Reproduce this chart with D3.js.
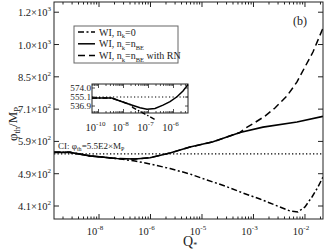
<!DOCTYPE html>
<html>
<head>
<meta charset="UTF-8">
<script src="https://cdn.jsdelivr.net/npm/d3@7.8.5/dist/d3.min.js"></script>
<style>
  * { margin: 0; padding: 0; }
  body { background: #fff; width: 326px; height: 250px; overflow: hidden; }
  svg { display: block; font-family: 'Liberation Serif', 'DejaVu Serif', serif; }
</style>
</head>
<body>
<svg id="chart" width="326" height="250"></svg>
<script>
// main panel data: x is log10(Q*), y is phi_th/M_P
const solidX = [-8.874, -8.563, -8.175, -7.650, -7.301, -7.010, -6.621, -6.233, -5.786, -5.262, -4.816, -4.155, -3.650];
const solidY = [555, 555, 544, 536, 534.5, 538.5, 553, 572, 589, 621, 640, 659, 680];

const rnX = [-8.874, -8.563, -8.175, -7.650, -7.301, -7.010, -6.621, -6.233, -5.786, -5.262, -5.165, -4.971, -4.777, -4.583, -4.350, -4.155, -4.000, -3.845, -3.650];
const rnY = [555, 555, 544, 536, 534.5, 538.5, 553, 572, 589, 621, 635, 657, 681, 713, 763, 826, 899, 978, 1120];

const zeroX = [-8.874, -8.563, -8.175, -7.650, -7.301, -7.010, -6.621, -6.233, -5.903, -5.553, -5.204, -4.874, -4.583, -4.291, -4.136, -4.000, -3.864, -3.748, -3.650];
const zeroY = [555, 555, 544, 536, 528.6, 519.7, 506.6, 491.2, 474.8, 459, 441.2, 426.5, 412.3, 398.6, 396.3, 408, 431.4, 456.4, 483];

const ciValue = 550;

// inset data
const insetSolidX = [-10.26, -9.47, -9.14, -8.74, -8.34, -8.06, -7.74, -7.42, -7.14, -6.86, -6.62, -6.42];
const insetSolidY = [553, 553, 547, 540, 533.5, 530.5, 532, 538.7, 545.9, 555.7, 567.6, 581.5];
const insetZeroX = [-10.26, -9.47, -9.14, -8.74, -8.62, -8.14, -7.70];
const insetZeroY = [553, 553, 547, 540, 533.8, 521.1, 509.6];

// ticks
const xTicks = [-8, -7, -6, -5, -4];
const xTickLabels = ['-8', '-6', '-5', '-3', '-2'];
const yTicks = [410, 492, 590.4, 708.5, 850.2, 1020.2, 1224.3];
const yTickLabels = [['4.1', '2'], ['4.9', '2'], ['5.9', '2'], ['7.1', '2'], ['8.5', '2'], ['1.0', '3'], ['1.2', '3']];
const insetXTicks = [-10, -9, -8, -7];
const insetXTickLabels = ['-10', '-8', '-7', '-6'];
const insetYTicks = [536.9, 555.1, 574.0];

const svg = d3.select('#chart');
const L = 54, R = 323, T = 2, B = 219;

const x = d3.scaleLinear().domain([-8.874, -3.650]).range([L, R]);
const y = d3.scaleLog().domain([381, 1297]).range([B, T]);

svg.append('clipPath').attr('id', 'clipMain')
  .append('rect').attr('x', L).attr('y', T).attr('width', R - L).attr('height', B - T);

const line = (xs, ys, sx, sy) => d3.line().x(d => sx(d[0])).y(d => sy(d[1]))(xs.map((v, i) => [v, ys[i]]));

const plot = svg.append('g').attr('clip-path', 'url(#clipMain)');

// CI reference line
plot.append('line')
  .attr('x1', L).attr('x2', R).attr('y1', y(ciValue)).attr('y2', y(ciValue))
  .attr('stroke', '#000').attr('stroke-width', 1.2).attr('stroke-dasharray', '1.3,2.2');

plot.append('path').attr('d', line(zeroX, zeroY, x, y))
  .attr('fill', 'none').attr('stroke', '#000').attr('stroke-width', 1.5)
  .attr('stroke-dasharray', '6,2.5,2,2.5');
plot.append('path').attr('d', line(rnX, rnY, x, y))
  .attr('fill', 'none').attr('stroke', '#000').attr('stroke-width', 1.5)
  .attr('stroke-dasharray', '7,4');
plot.append('path').attr('d', line(solidX, solidY, x, y))
  .attr('fill', 'none').attr('stroke', '#000').attr('stroke-width', 1.6);

// frame
svg.append('rect').attr('x', L).attr('y', T).attr('width', R - L).attr('height', B - T)
  .attr('fill', 'none').attr('stroke', '#222').attr('stroke-width', 1);

// x ticks (major + log minor) on bottom and top
const minor = [];
for (let d = -9; d <= -4; d++) {
  for (let k = 2; k <= 9; k++) {
    const v = d + Math.log10(k);
    if (v > x.domain()[0] && v < x.domain()[1]) minor.push(v);
  }
}
const tickG = svg.append('g').attr('stroke', '#222').attr('stroke-width', 1);
xTicks.forEach(v => {
  tickG.append('line').attr('x1', x(v)).attr('x2', x(v)).attr('y1', B).attr('y2', B - 5);
  tickG.append('line').attr('x1', x(v)).attr('x2', x(v)).attr('y1', T).attr('y2', T + 5);
});
minor.forEach(v => {
  tickG.append('line').attr('x1', x(v)).attr('x2', x(v)).attr('y1', B).attr('y2', B - 2.5);
  tickG.append('line').attr('x1', x(v)).attr('x2', x(v)).attr('y1', T).attr('y2', T + 2.5);
});
yTicks.forEach(v => {
  tickG.append('line').attr('x1', L).attr('x2', L + 5).attr('y1', y(v)).attr('y2', y(v));
  tickG.append('line').attr('x1', R).attr('x2', R - 5).attr('y1', y(v)).attr('y2', y(v));
});

// x tick labels
xTicks.forEach((v, i) => {
  const t = svg.append('text').attr('x', x(v) - 4).attr('y', 235)
    .attr('text-anchor', 'middle').attr('font-size', 10.5).attr('fill', '#222');
  t.append('tspan').text('10');
  t.append('tspan').attr('dy', -5).attr('font-size', 7).text(xTickLabels[i]);
});

// y tick labels
yTicks.forEach((v, i) => {
  const t = svg.append('text').attr('x', 51).attr('y', y(v) + 4)
    .attr('text-anchor', 'end').attr('font-size', 10.5).attr('fill', '#222');
  t.append('tspan').text(yTickLabels[i][0] + '×10');
  t.append('tspan').attr('dy', -5).attr('font-size', 7).text(yTickLabels[i][1]);
});

// axis titles
const yl = svg.append('text').attr('transform', 'translate(17,124) rotate(-90)')
  .attr('text-anchor', 'middle').attr('font-size', 13).attr('fill', '#222');
yl.append('tspan').text('φ');
yl.append('tspan').attr('dy', 3).attr('font-size', 8.5).text('th');
yl.append('tspan').attr('dy', -3).text('/M');
yl.append('tspan').attr('dy', 3).attr('font-size', 8.5).text('P');

const xl = svg.append('text').attr('x', 183).attr('y', 246).attr('font-size', 14).attr('fill', '#222');
xl.append('tspan').text('Q');
xl.append('tspan').attr('dy', 2).attr('font-size', 8).text('*');

// panel mark
svg.append('text').attr('x', 300).attr('y', 25).attr('text-anchor', 'middle')
  .attr('font-size', 12).attr('fill', '#222').text('(b)');

// CI label
const ci = svg.append('text').attr('x', 58).attr('y', 149).attr('font-size', 9).attr('fill', '#222');
ci.append('tspan').text('CI: φ');
ci.append('tspan').attr('dy', 2).attr('font-size', 6).text('th');
ci.append('tspan').attr('dy', -2).text('=5.5E2×M');
ci.append('tspan').attr('dy', 2).attr('font-size', 6).text('P');

// legend
const lg = svg.append('g');
lg.append('rect').attr('x', 74).attr('y', 26).attr('width', 104).attr('height', 37)
  .attr('fill', '#fff').attr('stroke', '#666').attr('stroke-width', 1);
const legendItems = [
  { dash: '6,2.5,2,2.5', parts: [['WI, n', 0], ['k', 1], ['=0', 0]] },
  { dash: null, parts: [['WI, n', 0], ['k', 1], ['=n', 0], ['BE', 1]] },
  { dash: '7,4', parts: [['WI, n', 0], ['k', 1], ['=n', 0], ['BE', 1], [' with RN', 0]] }
];
legendItems.forEach((item, i) => {
  const yy = 32 + i * 11.8;
  lg.append('line').attr('x1', 78).attr('x2', 95).attr('y1', yy).attr('y2', yy)
    .attr('stroke', '#000').attr('stroke-width', 1.5)
    .attr('stroke-dasharray', item.dash);
  const t = lg.append('text').attr('x', 99).attr('y', yy + 3.5).attr('font-size', 10).attr('fill', '#222');
  let sub = 0;
  item.parts.forEach(p => {
    const s = t.append('tspan').text(p[0]);
    if (p[1] && !sub) { s.attr('dy', 2.5).attr('font-size', 6.5); sub = 1; }
    else if (p[1]) { s.attr('font-size', 6.5); }
    else if (sub) { s.attr('dy', -2.5); sub = 0; }
  });
});

// inset
const iL = 92, iR = 188, iT = 84, iB = 113;
const ix = d3.scaleLinear().domain([-10.26, -6.42]).range([iL, iR]);
const iy = d3.scaleLog().domain([523.2, 582.6]).range([iB, iT]);
const inset = svg.append('g');
inset.append('rect').attr('x', iL).attr('y', iT).attr('width', iR - iL).attr('height', iB - iT)
  .attr('fill', '#fff').attr('stroke', '#222').attr('stroke-width', 1);
inset.append('line').attr('x1', iL).attr('x2', iR).attr('y1', iy(555.1)).attr('y2', iy(555.1))
  .attr('stroke', '#000').attr('stroke-width', 1.1).attr('stroke-dasharray', '1.2,2.3');
inset.append('path').attr('d', line(insetZeroX, insetZeroY, ix, iy))
  .attr('fill', 'none').attr('stroke', '#000').attr('stroke-width', 1.4).attr('stroke-dasharray', '5,2,1.5,2');
inset.append('path').attr('d', line(insetSolidX, insetSolidY, ix, iy))
  .attr('fill', 'none').attr('stroke', '#000').attr('stroke-width', 1.5);

const iMinor = [];
for (let d = -11; d <= -7; d++) {
  for (let k = 2; k <= 9; k++) {
    const v = d + Math.log10(k);
    if (v > ix.domain()[0] && v < ix.domain()[1]) iMinor.push(v);
  }
}
const iTick = inset.append('g').attr('stroke', '#222').attr('stroke-width', 0.8);
insetXTicks.forEach(v => {
  iTick.append('line').attr('x1', ix(v)).attr('x2', ix(v)).attr('y1', iB).attr('y2', iB - 4);
  iTick.append('line').attr('x1', ix(v)).attr('x2', ix(v)).attr('y1', iT).attr('y2', iT + 4);
});
iMinor.forEach(v => {
  iTick.append('line').attr('x1', ix(v)).attr('x2', ix(v)).attr('y1', iB).attr('y2', iB - 2);
  iTick.append('line').attr('x1', ix(v)).attr('x2', ix(v)).attr('y1', iT).attr('y2', iT + 2);
});
insetYTicks.forEach(v => {
  iTick.append('line').attr('x1', iL).attr('x2', iL + 3).attr('y1', iy(v)).attr('y2', iy(v));
  iTick.append('line').attr('x1', iR).attr('x2', iR - 3).attr('y1', iy(v)).attr('y2', iy(v));
  inset.append('text').attr('x', iL - 1).attr('y', iy(v) + 3.2).attr('text-anchor', 'end')
    .attr('font-size', 9.2).attr('fill', '#222').text(v.toFixed(1));
});
insetXTicks.forEach((v, i) => {
  const t = inset.append('text').attr('x', ix(v) - 3).attr('y', 131)
    .attr('text-anchor', 'middle').attr('font-size', 10.5).attr('fill', '#222');
  t.append('tspan').text('10');
  t.append('tspan').attr('dy', -5).attr('font-size', 7).text(insetXTickLabels[i]);
});
</script>
</body>
</html>
